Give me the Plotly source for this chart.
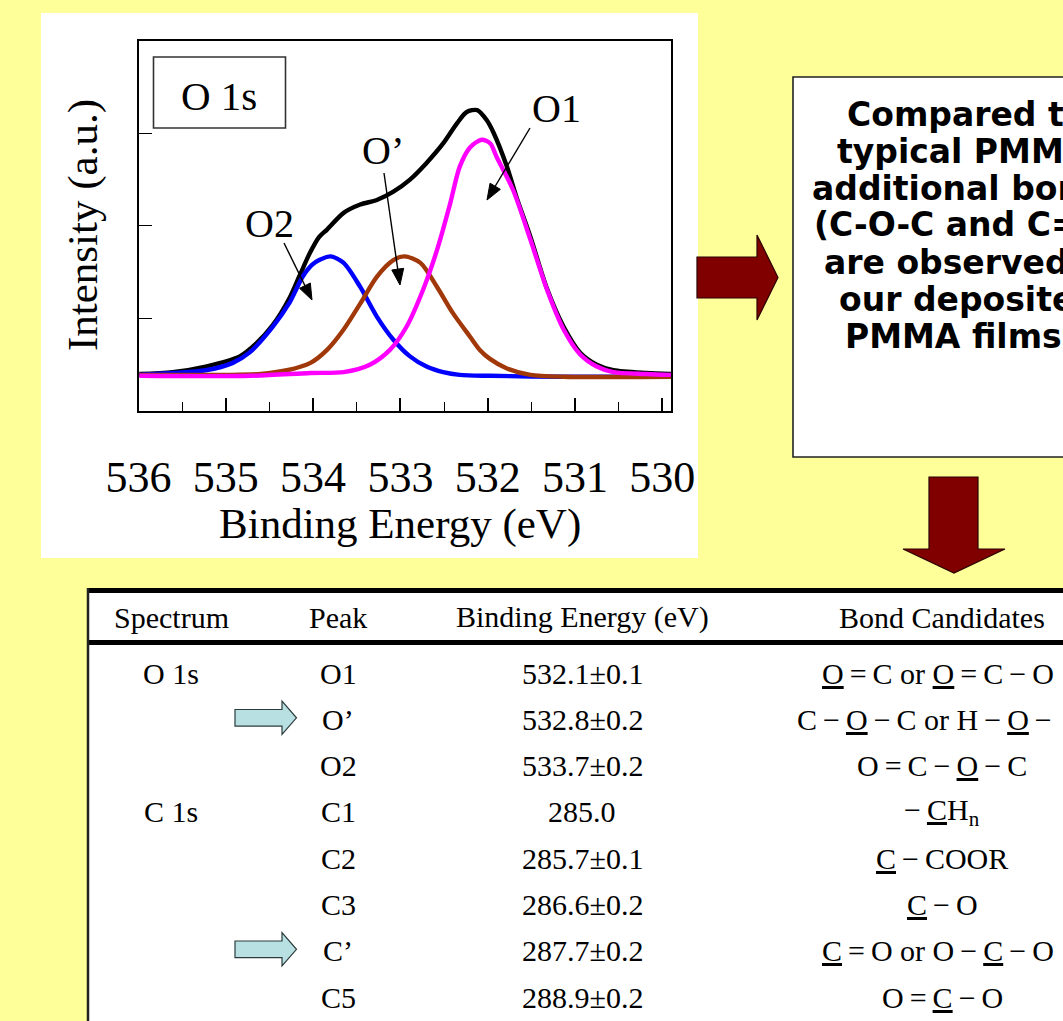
import plotly.graph_objects as go

W, H = 1063, 1021

# ---------------- data ----------------
black_E = [535.99, 535.61, 535.23, 534.84, 534.65, 534.46, 534.27, 534.16, 534.04, 533.93, 533.84,
           533.65, 533.46, 533.27, 533.08, 532.89, 532.70, 532.51, 532.35, 532.24, 532.12, 532.01,
           531.93, 531.78, 531.67, 531.51, 531.32, 531.13, 530.94, 530.75, 530.56, 530.18, 529.90]
black_I = [0.40, 0.42, 0.48, 0.59, 0.73, 0.93, 1.22, 1.45, 1.70, 1.88, 1.96,
           2.14, 2.23, 2.28, 2.37, 2.50, 2.68, 2.89, 3.11, 3.23, 3.25, 3.14,
           3.00, 2.64, 2.31, 1.88, 1.32, 0.91, 0.63, 0.50, 0.44, 0.41, 0.40]

o2_E = [535.99, 535.61, 535.23, 534.92, 534.73, 534.47, 534.27, 534.12, 534.01, 533.93, 533.80,
        533.65, 533.46, 533.27, 533.08, 532.89, 532.70, 532.51, 532.32, 531.97, 531.14, 529.90]
o2_I = [0.39, 0.41, 0.44, 0.52, 0.63, 0.90, 1.17, 1.45, 1.58, 1.63, 1.67,
        1.60, 1.34, 1.02, 0.77, 0.59, 0.48, 0.42, 0.39, 0.38, 0.37, 0.37]

op_E = [535.99, 535.00, 534.60, 534.30, 534.03, 533.84, 533.65, 533.46, 533.27, 533.08, 532.95,
        532.77, 532.58, 532.40, 532.20, 532.09, 531.97, 531.78, 531.51, 531.13, 529.90]
op_I = [0.39, 0.39, 0.40, 0.44, 0.52, 0.66, 0.88, 1.16, 1.45, 1.63, 1.67,
        1.60, 1.34, 1.06, 0.80, 0.66, 0.56, 0.46, 0.39, 0.37, 0.37]

o1_E = [535.99, 534.72, 534.03, 533.65, 533.35, 533.12, 532.93, 532.74, 532.58, 532.43, 532.32,
        532.20, 532.07, 531.97, 531.90, 531.71, 531.51, 531.32, 531.13, 530.94, 530.75, 530.56,
        530.18, 529.90]
o1_I = [0.38, 0.38, 0.41, 0.42, 0.50, 0.66, 0.91, 1.31, 1.74, 2.24, 2.64,
        2.85, 2.93, 2.89, 2.75, 2.39, 1.85, 1.31, 0.88, 0.61, 0.48, 0.42,
        0.40, 0.39]

x_tick_vals = [536, 535, 534, 533, 532, 531, 530]
x_tick_text = ["536", "535", "534", "533", "532", "531", "530"]
y_tick_vals = [1, 2, 3]

peak_labels = ["O2", "O\u2019", "O1"]

box_lines = ["Compared to", "typical PMMA,", "additional bonds", "(C-O-C and C=O)",
             "are observed in", "our deposited", "PMMA films."]

table_header = ["Spectrum", "Peak", "Binding Energy (eV)", "Bond Candidates"]
table_spectrum = ["O 1s", "", "", "C 1s", "", "", "", ""]
table_peak = ["O1", "O\u2019", "O2", "C1", "C2", "C3", "C\u2019", "C5"]
table_energy = ["532.1\u00b10.1", "532.8\u00b10.2", "533.7\u00b10.2", "285.0",
                "285.7\u00b10.1", "286.6\u00b10.2", "287.7\u00b10.2", "288.9\u00b10.2"]
U = lambda s: '<span style="text-decoration:underline">' + s + '</span>'
T = "\u2009"
table_bonds = [
    U("O") + T + "=" + T + "C or " + U("O") + T + "=" + T + "C" + T + "\u2212" + T + "O",
    "C" + T + "\u2212" + T + U("O") + T + "\u2212" + T + "C or H" + T + "\u2212" + T + U("O") + T + "\u2212",
    "O" + T + "=" + T + "C" + T + "\u2212" + T + U("O") + T + "\u2212" + T + "C",
    "\u2212" + T + U("C") + "H<sub>n</sub>",
    U("C") + T + "\u2212" + T + "COOR",
    U("C") + T + "\u2212" + T + "O",
    U("C") + T + "=" + T + "O or O" + T + "\u2212" + T + U("C") + T + "\u2212" + T + "O",
    "O" + T + "=" + T + U("C") + T + "\u2212" + T + "O",
]
table_bond_left = [820, 795, None, None, None, None, 820, None]
table_marked = [False, True, False, False, False, False, True, False]

# ---------------- helpers ----------------
def px(x):
    return x / W

def py(y):
    return 1 - y / H

def path(points, close=True):
    s = "M " + " L ".join(f"{px(a):.5f},{py(b):.5f}" for a, b in points)
    return s + (" Z" if close else "")

SERIF = "Liberation Serif"

fig = go.Figure()
for E, I, col in [(black_E, black_I, "#000000"), (o2_E, o2_I, "#0000FF"),
                  (op_E, op_I, "#A0380A"), (o1_E, o1_I, "#FF00FF")]:
    fig.add_trace(go.Scatter(x=E, y=I, mode="lines",
                             line=dict(color=col, width=4.4, shape="spline", smoothing=0.8),
                             hoverinfo="skip"))

shapes = []
# white panel behind the chart
shapes.append(dict(type="rect", xref="paper", yref="paper", x0=px(41), x1=px(698), y0=py(558), y1=py(13),
                   fillcolor="white", line=dict(width=0), layer="below"))
# "O 1s" label box
shapes.append(dict(type="rect", xref="paper", yref="paper", x0=px(153.5), x1=px(285.5), y0=py(128), y1=py(57),
                   fillcolor="rgba(0,0,0,0)", line=dict(color="#333333", width=1.6)))
# right arrow
shapes.append(dict(type="path", xref="paper", yref="paper",
                   path=path([(697, 257), (757, 257), (757, 235), (778, 277.5), (757, 320), (757, 298), (697, 298)]),
                   fillcolor="#800000", line=dict(color="#2a0000", width=1.2)))
# text box
shapes.append(dict(type="rect", xref="paper", yref="paper", x0=px(793), x1=px(1140), y0=py(457), y1=py(77),
                   fillcolor="white", line=dict(color="#222222", width=1.6)))
# down arrow
shapes.append(dict(type="path", xref="paper", yref="paper",
                   path=path([(929, 477), (978, 477), (978, 549), (1005, 549), (954, 573), (903, 549), (929, 549)]),
                   fillcolor="#800000", line=dict(color="#2a0000", width=1.2)))
# table
shapes.append(dict(type="rect", xref="paper", yref="paper", x0=px(88), x1=px(1100), y0=py(1040), y1=py(588),
                   fillcolor="white", line=dict(width=0)))
shapes.append(dict(type="line", xref="paper", yref="paper", x0=px(88), x1=px(1100), y0=py(590.5), y1=py(590.5),
                   line=dict(color="black", width=5)))
shapes.append(dict(type="line", xref="paper", yref="paper", x0=px(88), x1=px(1100), y0=py(642.5), y1=py(642.5),
                   line=dict(color="black", width=5)))
shapes.append(dict(type="line", xref="paper", yref="paper", x0=px(88), x1=px(88), y0=py(588), y1=py(1040),
                   line=dict(color="#222222", width=2.5)))

annotations = []
# axis titles
annotations.append(dict(text="Intensity (a.u.)", xref="paper", yref="paper", x=px(83), y=py(225),
                        textangle=-90, showarrow=False, font=dict(family=SERIF, size=43, color="black"),
                        xanchor="center", yanchor="middle"))
annotations.append(dict(text="Binding Energy (eV)", xref="paper", yref="paper", x=px(400), y=py(524),
                        showarrow=False, font=dict(family=SERIF, size=43, color="black"),
                        xanchor="center", yanchor="middle"))
annotations.append(dict(text="O 1s", xref="paper", yref="paper", x=px(219), y=py(96),
                        showarrow=False, font=dict(family=SERIF, size=41, color="black"),
                        xanchor="center", yanchor="middle"))
# peak labels and arrows (line + filled head)
label_pos = [(269, 224), (383, 150), (556, 108)]
arrow_tail = [(284, 243), (384, 173), (530, 128)]
arrow_tip = [(312, 300), (400, 285), (487, 200)]
HEAD_L, HEAD_W = 16.0, 6.0
for lab, (lx, ly), (tx, ty), (hx, hy) in zip(peak_labels, label_pos, arrow_tail, arrow_tip):
    annotations.append(dict(text=lab, xref="paper", yref="paper", x=px(lx), y=py(ly), showarrow=False,
                            font=dict(family=SERIF, size=40, color="black"), xanchor="center", yanchor="middle"))
    dx, dy = hx - tx, hy - ty
    n = (dx * dx + dy * dy) ** 0.5
    ux, uy = dx / n, dy / n
    bx, by = hx - ux * HEAD_L, hy - uy * HEAD_L
    shapes.append(dict(type="path", xref="paper", yref="paper", path=path([(tx, ty), (bx, by)], close=False),
                       line=dict(color="black", width=1.4)))
    shapes.append(dict(type="path", xref="paper", yref="paper",
                       path=path([(hx, hy), (bx - uy * HEAD_W, by + ux * HEAD_W), (bx + uy * HEAD_W, by - ux * HEAD_W)]),
                       fillcolor="black", line=dict(color="black", width=1)))
# text box lines
box_left = [845, 835, 810, 812, 822, 837, 843]
for i, (line, lx) in enumerate(zip(box_lines, box_left)):
    annotations.append(dict(text="<b>" + line + "</b>", xref="paper", yref="paper", x=px(lx), y=py(114 + i * 37),
                            showarrow=False, font=dict(family="DejaVu Sans", size=33, color="black"),
                            xanchor="left", yanchor="middle"))
# table
col_x = [171, 338, 582, 942]
for cx, txt in zip(col_x, table_header):
    annotations.append(dict(text=txt, xref="paper", yref="paper", x=px(cx), y=py(617), showarrow=False,
                            font=dict(family=SERIF, size=30, color="black"), xanchor="center", yanchor="middle"))
for i in range(len(table_peak)):
    ry = 673 + i * 46.3
    for cx, txt in zip(col_x[:3], [table_spectrum[i], table_peak[i], table_energy[i]]):
        if txt:
            annotations.append(dict(text=txt, xref="paper", yref="paper", x=px(cx), y=py(ry), showarrow=False,
                                    font=dict(family=SERIF, size=30, color="black"),
                                    xanchor="center", yanchor="middle"))
    left = table_bond_left[i]
    annotations.append(dict(text=table_bonds[i], xref="paper", yref="paper",
                            x=px(left if left else col_x[3]), y=py(ry), showarrow=False,
                            font=dict(family=SERIF, size=30, color="black"),
                            xanchor="left" if left else "center", yanchor="middle"))
    if table_marked[i]:
        cy = ry - 1.5
        shapes.append(dict(type="path", xref="paper", yref="paper",
                           path=path([(235, cy - 8.3), (282, cy - 8.3), (282, cy - 16.7), (296.5, cy),
                                      (282, cy + 16.7), (282, cy + 8.3), (235, cy + 8.3)]),
                           fillcolor="#B8E0E3", line=dict(color="#2b3b3b", width=1.2)))

fig.update_layout(
    width=W, height=H, margin=dict(l=0, r=0, t=0, b=0, autoexpand=False),
    paper_bgcolor="#FFFF99", plot_bgcolor="white", showlegend=False,
    shapes=shapes, annotations=annotations,
    xaxis=dict(domain=[px(138.5), px(671)], range=[536, 529.9], showgrid=False, zeroline=False,
               automargin=False,
               showline=True, mirror=True, linecolor="black", linewidth=2.2,
               ticks="inside", ticklen=13, tickwidth=1.5, tickcolor="black",
               tickvals=x_tick_vals, ticktext=x_tick_text, ticklabelstandoff=26,
               tickfont=dict(family=SERIF, size=44, color="black"),
               minor=dict(dtick=0.5, tick0=530, ticks="inside", ticklen=9, tickwidth=1.3, tickcolor="black")),
    yaxis=dict(domain=[py(411), py(40.7)], range=[0, 4], showgrid=False, zeroline=False,
               automargin=False,
               showline=True, mirror=True, linecolor="black", linewidth=2.2,
               ticks="inside", ticklen=13, tickwidth=1.3, tickcolor="black",
               tickvals=y_tick_vals, showticklabels=False),
)

fig.write_html("out.html", config={"displayModeBar": False},
               post_script="document.body.style.margin='0';document.body.style.overflow='hidden';")
